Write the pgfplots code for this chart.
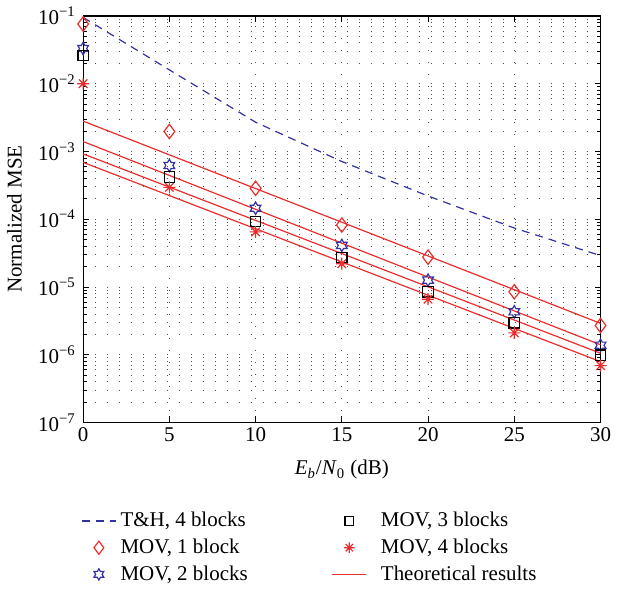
\documentclass[border=0pt]{standalone}
\usepackage{fontspec}
\setmainfont{Liberation Serif}
\usepackage{pgfplots}
\pgfplotsset{compat=1.18}

\definecolor{mred}{RGB}{235,45,45}
\definecolor{mblue}{RGB}{50,50,165}
\definecolor{mgrid}{RGB}{80,80,80}

% six-pointed star outline (MATLAB 'h')
\pgfdeclareplotmark{hexagram}{%
  \pgfpathmoveto{\pgfpointpolar{90}{\pgfplotmarksize}}%
  \pgfpathlineto{\pgfpointpolar{120}{0.577*\pgfplotmarksize}}%
  \pgfpathlineto{\pgfpointpolar{150}{\pgfplotmarksize}}%
  \pgfpathlineto{\pgfpointpolar{180}{0.577*\pgfplotmarksize}}%
  \pgfpathlineto{\pgfpointpolar{210}{\pgfplotmarksize}}%
  \pgfpathlineto{\pgfpointpolar{240}{0.577*\pgfplotmarksize}}%
  \pgfpathlineto{\pgfpointpolar{270}{\pgfplotmarksize}}%
  \pgfpathlineto{\pgfpointpolar{300}{0.577*\pgfplotmarksize}}%
  \pgfpathlineto{\pgfpointpolar{330}{\pgfplotmarksize}}%
  \pgfpathlineto{\pgfpointpolar{0}{0.577*\pgfplotmarksize}}%
  \pgfpathlineto{\pgfpointpolar{30}{\pgfplotmarksize}}%
  \pgfpathlineto{\pgfpointpolar{60}{0.577*\pgfplotmarksize}}%
  \pgfpathclose
  \pgfusepathqstroke}
% eight-spoke asterisk (MATLAB '*')
\pgfdeclareplotmark{mstar}{%
  \pgfpathmoveto{\pgfpointpolar{0}{\pgfplotmarksize}}\pgfpathlineto{\pgfpointpolar{180}{\pgfplotmarksize}}%
  \pgfpathmoveto{\pgfpointpolar{90}{\pgfplotmarksize}}\pgfpathlineto{\pgfpointpolar{270}{\pgfplotmarksize}}%
  \pgfpathmoveto{\pgfpointpolar{45}{\pgfplotmarksize}}\pgfpathlineto{\pgfpointpolar{225}{\pgfplotmarksize}}%
  \pgfpathmoveto{\pgfpointpolar{135}{\pgfplotmarksize}}\pgfpathlineto{\pgfpointpolar{315}{\pgfplotmarksize}}%
  \pgfusepathqstroke}

\begin{document}
\fontsize{10.5}{12.6}\selectfont
\begin{tikzpicture}
\begin{semilogyaxis}[
    scale only axis,
    width=259pt, height=203.5pt,
    xmin=0, xmax=30,
    ymin=1e-7, ymax=1e-1,
    xtick={0,5,...,30},
    ytick={1e-7,1e-6,1e-5,1e-4,1e-3,1e-2,1e-1},
    yticklabels={10\textsuperscript{−7},10\textsuperscript{−6},10\textsuperscript{−5},10\textsuperscript{−4},10\textsuperscript{−3},10\textsuperscript{−2},10\textsuperscript{−1}},
    /pgf/number format/assume math mode=true,
    xticklabel style={yshift=1pt},
    tick align=inside,
    major tick length=3pt, minor tick length=1.8pt,
    axis line style={line width=0.6pt},
    every tick/.style={black, line width=0.4pt},
    grid=both,
    major grid style={mgrid, line width=0.4pt, dash pattern=on 0.4pt off 5.6pt},
    minor grid style={mgrid, line width=0.4pt, dash pattern=on 0.4pt off 5.6pt},
    xlabel={\textit{E}\textsubscript{\textit{b}}/\textit{N}\textsubscript{0} (dB)},
    ylabel={Normalized MSE},
    xlabel style={yshift=-2pt},
    ylabel style={yshift=1pt},
    clip=false,
    legend columns=2,
    legend cell align=left,
    legend style={draw=none, fill=none, at={(-0.016,-0.20)}, anchor=north west,
        /tikz/every even column/.append style={column sep=40pt},
        /tikz/column 3/.style={column sep=5pt},
        row sep=0.5pt},
]
% theoretical results
\addplot[mred, line width=0.6pt, forget plot] coordinates {(0,2.8e-3) (30,2.9e-6)};
\addplot[mred, line width=0.6pt, forget plot] coordinates {(0,1.4e-3) (30,1.4e-6)};
\addplot[mred, line width=0.6pt, forget plot] coordinates {(0,9.2e-4) (30,1.05e-6)};
\addplot[mred, line width=0.6pt, forget plot] coordinates {(0,6.9e-4) (30,7.9e-7)};
% T&H, 4 blocks
\addplot[mblue, line width=0.6pt, dash pattern=on 4pt off 3pt, forget plot] coordinates {
    (0,0.095) (5,0.016) (10,2.7e-3) (15,7.1e-4) (20,2.2e-4) (25,7.4e-5) (30,2.9e-5)};
% MOV, 1 block
\addplot[only marks, mred, mark=diamond, mark size=3.6pt, mark options={line width=0.6pt}, forget plot] coordinates {
    (0,0.076) (5,1.97e-3) (10,2.86e-4) (15,8.2e-5) (20,2.75e-5) (25,8.5e-6) (30,2.7e-6)};
% MOV, 2 blocks
\addplot[only marks, mblue, mark=hexagram, mark size=3.1pt, mark options={line width=0.6pt}, forget plot] coordinates {
    (0,0.033) (5,6.2e-4) (10,1.45e-4) (15,4.1e-5) (20,1.26e-5) (25,4.3e-6) (30,1.38e-6)};
% MOV, 3 blocks
\addplot[only marks, black, mark=square, mark size=2.6pt, mark options={line width=0.6pt}, forget plot] coordinates {
    (0,0.026) (5,4.2e-4) (10,9.3e-5) (15,2.7e-5) (20,8.5e-6) (25,2.95e-6) (30,9.8e-7)};
% MOV, 4 blocks
\addplot[only marks, mred, mark=mstar, mark size=3pt, mark options={line width=0.6pt}, forget plot] coordinates {
    (0,0.010) (5,2.95e-4) (10,6.5e-5) (15,2.2e-5) (20,6.6e-6) (25,2.1e-6) (30,6.9e-7)};

\addlegendimage{draw=mblue, line width=0.6pt, dash pattern=on 4pt off 3pt}
\addlegendentry{T\&H, 4 blocks}
\addlegendimage{only marks, draw=black, mark=square, mark size=2.2pt, mark options={line width=0.6pt}}
\addlegendentry{MOV, 3 blocks}
\addlegendimage{only marks, draw=mred, mark=diamond, mark size=3.3pt, mark options={line width=0.6pt}}
\addlegendentry{MOV, 1 block}
\addlegendimage{only marks, draw=mred, mark=mstar, mark size=2.6pt, mark options={line width=0.6pt}}
\addlegendentry{MOV, 4 blocks}
\addlegendimage{only marks, draw=mblue, mark=hexagram, mark size=2.8pt, mark options={line width=0.6pt}}
\addlegendentry{MOV, 2 blocks}
\addlegendimage{draw=mred, line width=0.6pt, no markers}
\addlegendentry{Theoretical results}
\end{semilogyaxis}
\end{tikzpicture}
\end{document}
